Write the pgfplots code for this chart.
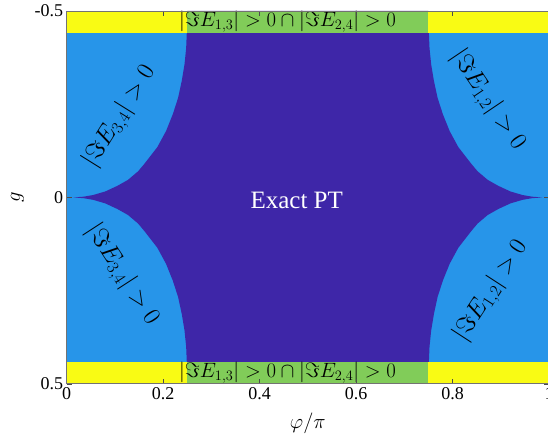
\documentclass[border=0pt]{standalone}
\usepackage[no-math]{fontspec}
\setmainfont{Liberation Serif}
\usepackage{pgfplots}
\pgfplotsset{compat=1.18}
\definecolor{pdark}{RGB}{62,38,168}
\definecolor{pblue}{RGB}{39,149,233}
\definecolor{pgreen}{RGB}{129,204,89}
\definecolor{pyellow}{RGB}{249,251,20}
\begin{document}
\begin{tikzpicture}
\begin{axis}[
  scale only axis, width=482.5pt, height=373pt,
  xmin=0, xmax=1, ymin=-0.5, ymax=0.5, y dir=reverse,
  axis on top,
  xtick={0,0.2,0.4,0.6,0.8,1}, xticklabels={0,0.2,0.4,0.6,0.8,1},
  ytick={-0.5,0,0.5}, yticklabels={-0.5,0,0.5},
  tick align=inside, major tick length=5pt,
  axis line style={black!55, line width=0.8pt},
  major tick style={black!70, line width=0.6pt},
  ticklabel style={font=\fontsize{18}{20}\selectfont},
  xlabel={$\varphi/\pi$}, ylabel={$g$},
  label style={font=\fontsize{20}{22}\selectfont},
  xlabel style={at={(axis description cs:0.5,-0.107)}, anchor=center},
  ylabel style={at={(axis description cs:-0.102,0.5)}, anchor=center},
]
\addplot[fill=pblue, draw=none] coordinates {(0,-0.5) (1,-0.5) (1,0.5) (0,0.5)} -- cycle;
\addplot[fill=pdark, draw=none] coordinates {
(0.25,-0.5) (0.2490,-0.44) (0.2477,-0.40) (0.2443,-0.357) (0.2385,-0.312) (0.231,-0.267) (0.220,-0.223) (0.206,-0.178) (0.188,-0.135) (0.161,-0.09) (0.148,-0.07) (0.127,-0.047) (0.105,-0.031) (0.08,-0.016) (0.055,-0.0065) (0.035,-0.002) (0.014,0)
(0.035,0.002) (0.055,0.0065) (0.08,0.016) (0.105,0.031) (0.127,0.047) (0.148,0.07) (0.161,0.09) (0.188,0.135) (0.206,0.178) (0.220,0.223) (0.231,0.267) (0.2385,0.312) (0.2443,0.357) (0.2477,0.40) (0.2490,0.44) (0.25,0.5)
(0.75,0.5) (0.7510,0.44) (0.7523,0.40) (0.7557,0.357) (0.7615,0.312) (0.769,0.267) (0.780,0.223) (0.794,0.178) (0.812,0.135) (0.839,0.09) (0.852,0.07) (0.873,0.047) (0.895,0.031) (0.92,0.016) (0.945,0.0065) (0.965,0.002) (0.986,0)
(0.965,-0.002) (0.945,-0.0065) (0.92,-0.016) (0.895,-0.031) (0.873,-0.047) (0.852,-0.07) (0.839,-0.09) (0.812,-0.135) (0.794,-0.178) (0.780,-0.223) (0.769,-0.267) (0.7615,-0.312) (0.7557,-0.357) (0.7523,-0.40) (0.7510,-0.44) (0.75,-0.5)
} -- cycle;
\addplot[fill=pyellow, draw=none] coordinates {(0,-0.5) (0.25,-0.5) (0.25,-0.441) (0,-0.441)} -- cycle;
\addplot[fill=pyellow, draw=none] coordinates {(0.75,-0.5) (1,-0.5) (1,-0.441) (0.75,-0.441)} -- cycle;
\addplot[fill=pyellow, draw=none] coordinates {(0,0.441) (0.25,0.441) (0.25,0.5) (0,0.5)} -- cycle;
\addplot[fill=pyellow, draw=none] coordinates {(0.75,0.441) (1,0.441) (1,0.5) (0.75,0.5)} -- cycle;
\addplot[fill=pgreen, draw=none] coordinates {(0.25,-0.5) (0.75,-0.5) (0.75,-0.441) (0.25,-0.441)} -- cycle;
\addplot[fill=pgreen, draw=none] coordinates {(0.25,0.441) (0.75,0.441) (0.75,0.5) (0.25,0.5)} -- cycle;
\node[inner sep=0pt] at (axis cs:0.458,-0.4705) {\fontsize{21}{21}\selectfont $|\Im E_{1,3}|>0\cap|\Im E_{2,4}|>0$};
\node[inner sep=0pt] at (axis cs:0.458,0.4705) {\fontsize{21}{21}\selectfont $|\Im E_{1,3}|>0\cap|\Im E_{2,4}|>0$};
\node[inner sep=0pt, text=white] at (axis cs:0.477,0.007) {\fontsize{25}{25}\selectfont Exact PT};
\node[inner sep=0pt, rotate=58] at (axis cs:0.110,-0.216) {\fontsize{27}{27}\selectfont $|\Im E_{3,4}|>0$};
\node[inner sep=0pt, rotate=-57] at (axis cs:0.1146,0.208) {\fontsize{27}{27}\selectfont $|\Im E_{3,4}|>0$};
\node[inner sep=0pt, rotate=-56] at (axis cs:0.873,-0.261) {\fontsize{27}{27}\selectfont $|\Im E_{1,2}|>0$};
\node[inner sep=0pt, rotate=57] at (axis cs:0.880,0.250) {\fontsize{27}{27}\selectfont $|\Im E_{1,2}|>0$};
\coordinate (SW) at (axis description cs:0,0);
\coordinate (NE) at (axis description cs:1,1);
\end{axis}
\pgfresetboundingbox
\path ([shift={(-66.7pt,-55pt)}]SW) rectangle ([shift={(-1pt,11pt)}]NE);
\end{tikzpicture}
\end{document}
